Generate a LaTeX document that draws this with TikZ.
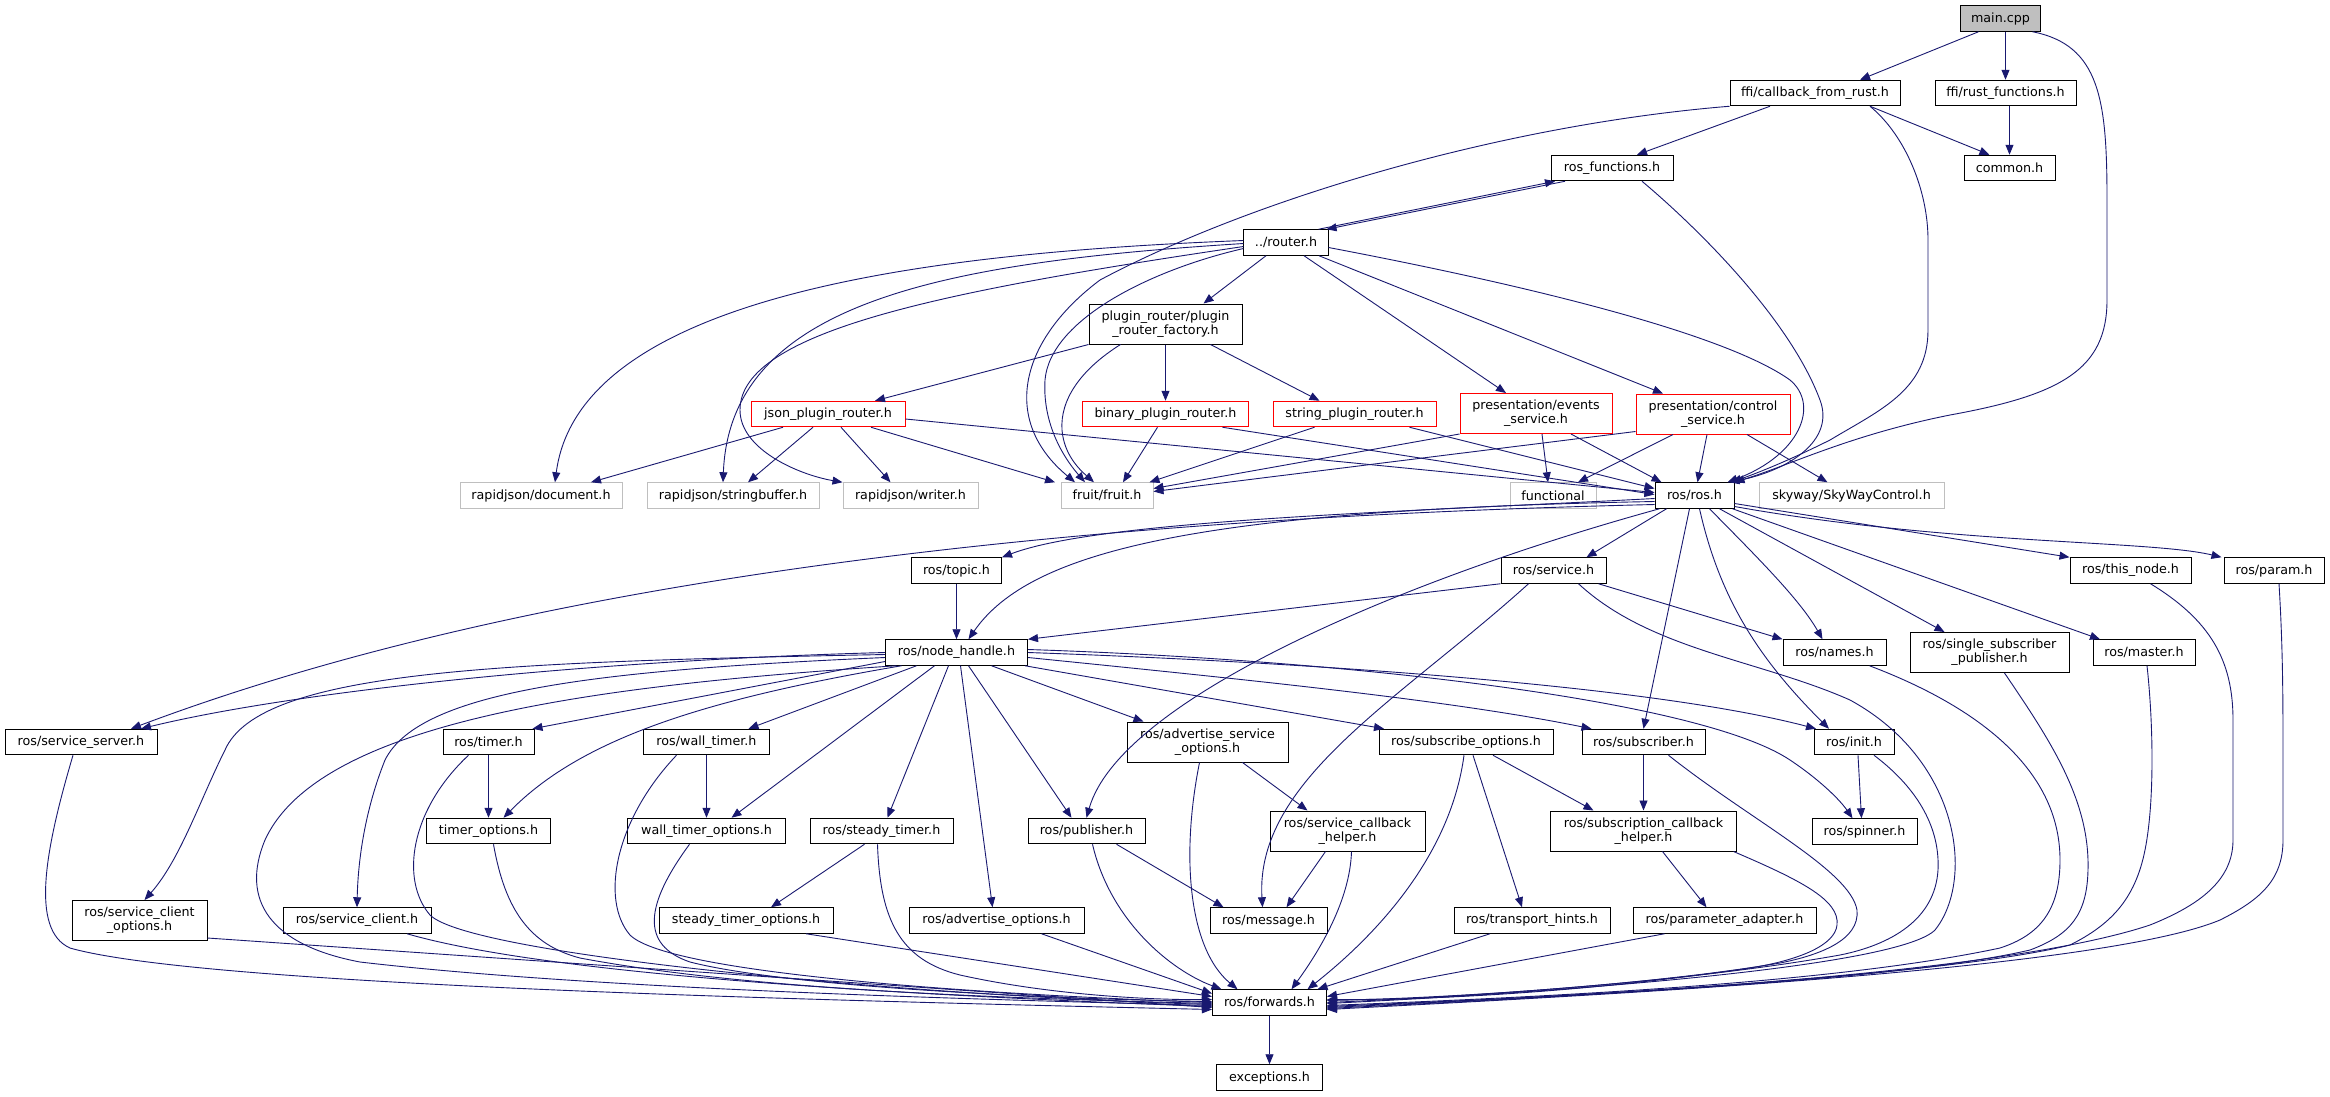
\documentclass[tikz,border=0pt]{standalone}
\usepackage{fontspec}
\setmainfont{DejaVu Sans}
\usetikzlibrary{arrows.meta}
\definecolor{edgec}{HTML}{191970}
\definecolor{greyb}{HTML}{BFBFBF}
\tikzset{
  box/.style={draw=black, line width=1pt, fill=white, minimum height=25.5pt,
    inner xsep=11pt, inner ysep=2pt, font=\fontsize{12.7}{14}\selectfont, align=center},
  box2/.style={box, minimum height=40pt},
  redb/.style={draw=red},
  greyd/.style={draw=greyb},
  rootb/.style={fill=greyb},
  e/.style={draw=edgec, line width=0.9pt, -{Triangle[length=10pt,width=8pt]}}
}
\begin{document}
\begin{tikzpicture}[x=1pt,y=-1pt]
\fill[white] (0,0) rectangle (2330,1096);
\useasboundingbox (0,0) rectangle (2330,1096);

% ---------- nodes ----------
\node[box, rootb, minimum width=80pt] (main) at (2000.5,18.5) {main.cpp};
\node[box, minimum width=170pt] (cb) at (1815,93) {ffi/callback\_from\_rust.h};
\node[box, minimum width=141pt] (rf) at (2005.5,93) {ffi/rust\_functions.h};
\node[box, minimum width=122pt] (rosf) at (1612,168) {ros\_functions.h};
\node[box, minimum width=91pt] (common) at (2009.5,168) {common.h};
\node[box, minimum width=84pt] (router) at (1286,242.5) {../router.h};
\node[box2, minimum width=153pt] (prf) at (1165.5,324) {plugin\_router/plugin\\\_router\_factory.h};
\node[box, redb, minimum width=154pt] (json) at (828,414) {json\_plugin\_router.h};
\node[box, redb, minimum width=166pt] (binary) at (1165.5,414) {binary\_plugin\_router.h};
\node[box, redb, minimum width=163pt] (string) at (1354.5,414) {string\_plugin\_router.h};
\node[box2, redb, minimum width=152pt] (events) at (1536,413.5) {presentation/events\\\_service.h};
\node[box2, redb, minimum width=154pt] (control) at (1713,414) {presentation/control\\\_service.h};
\node[box, greyd, minimum width=162pt] (document) at (541,495.5) {rapidjson/document.h};
\node[box, greyd, minimum width=172pt] (sbuf) at (733,495.5) {rapidjson/stringbuffer.h};
\node[box, greyd, minimum width=135pt] (writer) at (910.5,495.5) {rapidjson/writer.h};
\node[box, greyd, minimum width=92pt] (fruit) at (1107,495.5) {fruit/fruit.h};
\node[box, greyd, minimum width=86pt] (functional) at (1553,495.5) {functional};
\node[box, minimum width=79pt] (ros) at (1694.5,495.5) {ros/ros.h};
\node[box, greyd, minimum width=185pt] (skyway) at (1851.5,495.5) {skyway/SkyWayControl.h};
\node[box, minimum width=90pt] (topic) at (956.5,570.5) {ros/topic.h};
\node[box, minimum width=105pt] (service) at (1553.5,570.5) {ros/service.h};
\node[box, minimum width=121pt] (thisnode) at (2130.5,570.5) {ros/this\_node.h};
\node[box, minimum width=100pt] (param) at (2274,570.5) {ros/param.h};
\node[box, minimum width=142pt] (nh) at (956.5,652.5) {ros/node\_handle.h};
\node[box, minimum width=103pt] (names) at (1834.5,652.5) {ros/names.h};
\node[box2, minimum width=159pt] (ssp) at (1989.5,652.5) {ros/single\_subscriber\\\_publisher.h};
\node[box, minimum width=102pt] (master) at (2144,652.5) {ros/master.h};
\node[box, minimum width=152pt] (ss) at (81,742) {ros/service\_server.h};
\node[box, minimum width=91pt] (timer) at (488.5,742) {ros/timer.h};
\node[box, minimum width=126pt] (wtimer) at (706.5,742) {ros/wall\_timer.h};
\node[box2, minimum width=161pt] (aso) at (1207.5,742) {ros/advertise\_service\\\_options.h};
\node[box, minimum width=174pt] (subopt) at (1466,742) {ros/subscribe\_options.h};
\node[box, minimum width=123pt] (subscriber) at (1643.5,742) {ros/subscriber.h};
\node[box, minimum width=80pt] (init) at (1854,742) {ros/init.h};
\node[box, minimum width=124pt] (topt) at (488.5,831) {timer\_options.h};
\node[box, minimum width=158pt] (wtopt) at (706.5,831) {wall\_timer\_options.h};
\node[box, minimum width=143pt] (stimer) at (881.5,831) {ros/steady\_timer.h};
\node[box, minimum width=117pt] (pub) at (1086.5,831) {ros/publisher.h};
\node[box2, minimum width=155pt] (sch) at (1347.5,831) {ros/service\_callback\\\_helper.h};
\node[box2, minimum width=186pt] (subcb) at (1643.5,831) {ros/subscription\_callback\\\_helper.h};
\node[box, minimum width=105pt] (spinner) at (1864.5,831.5) {ros/spinner.h};
\node[box2, minimum width=135pt] (sco) at (139.5,920.5) {ros/service\_client\\\_options.h};
\node[box, minimum width=148pt] (sclient) at (357,920.5) {ros/service\_client.h};
\node[box, minimum width=174pt] (stopt) at (746,920.5) {steady\_timer\_options.h};
\node[box, minimum width=175pt] (advopt) at (996.5,920.5) {ros/advertise\_options.h};
\node[box, minimum width=117pt] (msg) at (1268.5,920.5) {ros/message.h};
\node[box, minimum width=156pt] (th) at (1532,920.5) {ros/transport\_hints.h};
\node[box, minimum width=183pt] (pa) at (1724.5,920.5) {ros/parameter\_adapter.h};
\node[box, minimum width=114pt] (fwd) at (1269.5,1002.5) {ros/forwards.h};
\node[box, minimum width=106pt] (exc) at (1269.5,1077.5) {exceptions.h};

% ---------- top edges ----------
\draw[e] ([xshift=-22pt]main.south) -- ([xshift=45pt]cb.north);
\draw[e] ([xshift=5pt]main.south) -- (rf.north);
\draw[e] ([xshift=32pt]main.south) .. controls (2100,45) and (2107,100) .. (2107,200) -- (2107,300) .. controls (2107,370) and (2060,395) .. (1950,415) .. controls (1850,435) and (1790,465) .. (ros.north east);
\draw[e] ([xshift=55pt]cb.south) .. controls (1905,135) and (1928,190) .. (1928,240) -- (1928,330) .. controls (1928,390) and (1880,410) .. (1830,440) .. controls (1790,460) and (1760,472) .. ([xshift=-3pt]ros.north east);
\draw[e] ([xshift=-45pt]cb.south) -- ([xshift=25pt]rosf.north);
\draw[e] ([xshift=55pt]cb.south) -- ([xshift=-20pt]common.north);
\draw[e] ([xshift=4pt]rf.south) -- (common.north);
\draw[e] (cb.south west) .. controls (1500,125) and (1250,200) .. (1100,280) .. controls (1020,340) and (1000,420) .. ([xshift=-32pt]fruit.north);
\draw[e] ([xshift=-47pt]rosf.south) -- ([xshift=-2pt]router.north east);
\draw[e] ([xshift=-10pt]router.north east) -- ([xshift=-57pt]rosf.south);
\draw[e] ([xshift=30pt]rosf.south) .. controls (1700,230) and (1790,320) .. (1820,400) .. controls (1835,440) and (1790,470) .. ([xshift=-5pt]ros.north east);

% ---------- router edges ----------
\draw[e] ([yshift=-5pt]router.east) .. controls (1500,280) and (1720,330) .. (1790,380) .. controls (1820,405) and (1800,455) .. ([xshift=-7pt]ros.north east);
\draw[e] ([xshift=-20pt]router.south) -- ([xshift=38pt]prf.north);
\draw[e] ([xshift=18pt]router.south) -- ([xshift=-30pt]events.north);
\draw[e] ([xshift=33pt]router.south) -- ([xshift=-50pt]control.north);
\draw[e] ([yshift=2pt]router.west) .. controls (950,252) and (580,290) .. ([xshift=14pt]document.north);
\draw[e] ([yshift=-1pt]router.west) .. controls (950,262) and (730,300) .. ([xshift=-10pt]sbuf.north);
\draw[e] ([yshift=-4pt]router.west) .. controls (950,290) and (740,330) .. (740,410) .. controls (740,450) and (800,475) .. (writer.north west);
\draw[e] ([yshift=-6pt]router.west) .. controls (1150,270) and (1050,320) .. (1045,380) .. controls (1042,430) and (1070,465) .. ([xshift=-22pt]fruit.north);

% ---------- plugin router ----------
\draw[e] ([xshift=-45pt]prf.south) .. controls (1080,370) and (1060,400) .. (1062,430) .. controls (1064,455) and (1080,470) .. ([xshift=-13pt]fruit.north);
\draw[e] (prf.south west) -- ([xshift=47pt]json.north);
\draw[e] (prf.south) -- (binary.north);
\draw[e] ([xshift=45pt]prf.south) -- ([xshift=-35pt]string.north);

% ---------- red row ----------
\draw[e] ([xshift=-45pt]json.south) -- ([xshift=50pt]document.north);
\draw[e] ([xshift=-15pt]json.south) -- ([xshift=15pt]sbuf.north);
\draw[e] ([xshift=13pt]json.south) -- ([xshift=-20pt]writer.north);
\draw[e] ([xshift=43pt]json.south) -- ([xshift=-52pt]fruit.north);
\draw[e] ([yshift=-5pt]json.east) -- ([yshift=3pt]ros.west);
\draw[e] ([xshift=-8pt]binary.south) -- ([xshift=16pt]fruit.north);
\draw[e] ([xshift=57pt]binary.south) -- ([yshift=1pt]ros.west);
\draw[e] ([xshift=-40pt]string.south) -- ([xshift=-4pt]fruit.north east);
\draw[e] ([xshift=55pt]string.south) -- ([yshift=7pt]ros.west);
\draw[e] (events.south west) -- ([yshift=7pt]fruit.east);
\draw[e] ([yshift=3pt]control.south west) -- ([yshift=4pt]fruit.east);
\draw[e] ([xshift=6pt]events.south) -- ([xshift=-5pt]functional.north);
\draw[e] ([xshift=35pt]events.south) -- ([xshift=-33pt]ros.north);
\draw[e] ([xshift=-40pt]control.south) -- ([xshift=25pt]functional.north);
\draw[e] ([xshift=-6pt]control.south) -- ([xshift=3pt]ros.north);
\draw[e] ([xshift=34pt]control.south) -- ([xshift=-24pt]skyway.north);

% ---------- ros.h ----------
\draw[e] ([yshift=-3pt]ros.west) .. controls (1400,512) and (1100,520) .. (topic.north east);
\draw[e] ([yshift=-6pt]ros.west) .. controls (1200,510) and (1030,550) .. ([xshift=12pt]nh.north);
\draw[e] ([yshift=-9pt]ros.west) .. controls (1000,520) and (500,590) .. ([xshift=50pt]ss.north);
\draw[e] ([xshift=-28pt]ros.south) -- ([xshift=33pt]service.north);
\draw[e] ([xshift=-35pt]ros.south) .. controls (1400,580) and (1120,700) .. (pub.north);
\draw[e] ([xshift=-5pt]ros.south) -- (subscriber.north);
\draw[e] ([xshift=15pt]ros.south) .. controls (1760,560) and (1800,600) .. ([xshift=-12pt]names.north);
\draw[e] ([xshift=5pt]ros.south) .. controls (1720,600) and (1760,660) .. ([xshift=-25pt]init.north);
\draw[e] ([xshift=25pt]ros.south) -- ([xshift=-45pt]ssp.north);
\draw[e] ([xshift=-2pt]ros.south east) -- ([xshift=-44pt]master.north);
\draw[e] ([yshift=-8pt]ros.east) -- (thisnode.north west);
\draw[e] ([yshift=-11pt]ros.east) .. controls (1950,545) and (2150,540) .. ([xshift=-2pt]param.north west);

% ---------- service.h ----------
\draw[e] (service.south west) -- (nh.north east);
\draw[e] ([xshift=45pt]service.south) -- (names.north west);
\draw[e] ([xshift=-25pt]service.south) .. controls (1400,700) and (1255,780) .. ([xshift=-6pt]msg.north);
\draw[e] ([xshift=25pt]service.south) .. controls (1650,650) and (1760,660) .. (1850,700) .. controls (1960,760) and (1975,880) .. (1935,930) .. controls (1900,965) and (1600,990) .. ([yshift=-1pt]fwd.east);

% ---------- right side into forwards ----------
\draw[e] ([xshift=35pt]names.south) .. controls (1960,700) and (2060,760) .. (2060,860) .. controls (2060,910) and (2040,935) .. (2000,948) .. controls (1850,980) and (1600,995) .. ([yshift=-3pt]fwd.east);
\draw[e] ([xshift=15pt]ssp.south) .. controls (2050,740) and (2090,800) .. (2088,870) .. controls (2087,915) and (2070,935) .. (2030,950) .. controls (1900,980) and (1600,995) .. ([yshift=-4pt]fwd.east);
\draw[e] ([xshift=3pt]master.south) .. controls (2153,720) and (2155,800) .. (2145,850) .. controls (2135,900) and (2110,925) .. (2070,945) .. controls (1950,975) and (1600,995) .. ([yshift=-5pt]fwd.east);
\draw[e] ([xshift=20pt]thisnode.south) .. controls (2210,620) and (2233,660) .. (2233,720) -- (2233,840) .. controls (2233,880) and (2200,905) .. (2150,925) .. controls (2000,975) and (1600,995) .. ([yshift=-6pt]fwd.east);
\draw[e] ([xshift=5pt]param.south) .. controls (2283,650) and (2283,700) .. (2283,760) -- (2283,840) .. controls (2283,880) and (2260,900) .. (2220,920) .. controls (2100,970) and (1600,995) .. ([yshift=-7pt]fwd.east);
\draw[e] ([xshift=20pt]init.south) .. controls (1920,790) and (1940,830) .. (1938,870) .. controls (1935,920) and (1890,945) .. (1840,955) .. controls (1700,980) and (1500,995) .. (fwd.east);
\draw[e] ([xshift=25pt]subscriber.south) .. controls (1750,820) and (1850,870) .. (1857,910) .. controls (1860,940) and (1820,955) .. (1780,963) .. controls (1650,985) and (1450,998) .. ([yshift=2pt]fwd.east);
\draw[e] ([xshift=90pt]subcb.south) .. controls (1800,880) and (1840,900) .. (1837,925) .. controls (1835,945) and (1800,960) .. (1750,968) .. controls (1600,990) and (1450,1000) .. ([yshift=3pt]fwd.east);
\draw[e] ([xshift=-60pt]pa.south) -- ([yshift=6pt]fwd.east);
\draw[e] ([xshift=-42pt]th.south) -- ([xshift=48pt]fwd.north);
\draw[e] ([xshift=-2pt]subopt.south) .. controls (1450,860) and (1370,940) .. ([xshift=38pt]fwd.north);
\draw[e] ([xshift=4pt]sch.south) .. controls (1350,900) and (1320,950) .. ([xshift=22pt]fwd.north);
\draw[e] ([xshift=-8pt]aso.south) .. controls (1180,860) and (1190,950) .. ([xshift=-32pt]fwd.north);
\draw[e] ([xshift=6pt]pub.south) .. controls (1110,920) and (1170,970) .. ([xshift=-48pt]fwd.north);
\draw[e] ([xshift=30pt]pub.south) -- ([xshift=-45pt]msg.north);
\draw[e] ([xshift=-22pt]sch.south) -- ([xshift=18pt]msg.north);

% ---------- left side into forwards ----------
\draw[e] ([xshift=45pt]advopt.south) -- ([yshift=9pt]fwd.west);
\draw[e] ([xshift=60pt]stopt.south) -- ([yshift=6pt]fwd.west);
\draw[e] ([xshift=-4pt]stimer.south) .. controls (880,920) and (900,960) .. (960,975) .. controls (1050,995) and (1150,1000) .. ([yshift=3pt]fwd.west);
\draw[e] ([xshift=-17pt]wtopt.south) .. controls (645,905) and (640,945) .. (690,962) .. controls (800,990) and (1100,1000) .. ([yshift=1pt]fwd.west);
\draw[e] ([xshift=-30pt]wtimer.south) .. controls (615,820) and (600,900) .. (630,935) .. controls (670,975) and (1000,995) .. (fwd.west);
\draw[e] ([xshift=5pt]topt.south) .. controls (505,910) and (530,945) .. (580,958) .. controls (750,990) and (1000,998) .. ([yshift=-1pt]fwd.west);
\draw[e] ([xshift=-20pt]timer.south) .. controls (410,810) and (400,880) .. (430,915) .. controls (470,955) and (900,995) .. ([yshift=-2pt]fwd.west);
\draw[e] ([xshift=-60pt]nh.south) .. controls (600,685) and (320,720) .. (265,840) .. controls (240,900) and (270,945) .. (360,962) .. controls (600,990) and (1000,1000) .. ([yshift=-3pt]fwd.west);
\draw[e] ([xshift=50pt]sclient.south) .. controls (550,975) and (900,995) .. ([yshift=-4pt]fwd.west);
\draw[e] ([yshift=3pt]sco.south east) -- ([yshift=-5pt]fwd.west);
\draw[e] ([xshift=-8pt]ss.south) .. controls (45,850) and (30,930) .. (70,948) .. controls (200,985) and (800,1000) .. ([yshift=-7pt]fwd.west);

% ---------- node_handle ----------
\draw[e] (topic) -- (nh);
\draw[e] (nh.west) .. controls (600,660) and (300,690) .. ([xshift=60pt]ss.north);
\draw[e] ([yshift=-2pt]nh.west) .. controls (500,662) and (260,670) .. (225,750) .. controls (200,800) and (180,860) .. ([xshift=5pt]sco.north);
\draw[e] ([yshift=-5pt]nh.west) .. controls (600,670) and (420,690) .. (385,760) .. controls (365,810) and (358,860) .. (sclient.north);
\draw[e] ([yshift=-9pt]nh.west) -- ([xshift=-2pt]timer.north east);
\draw[e] ([xshift=-55pt]nh.south) .. controls (700,700) and (580,740) .. ([xshift=15pt]topt.north);
\draw[e] ([xshift=-40pt]nh.south) -- ([xshift=42pt]wtimer.north);
\draw[e] ([xshift=-22pt]nh.south) -- ([xshift=25pt]wtopt.north);
\draw[e] ([xshift=-8pt]nh.south) -- ([xshift=6pt]stimer.north);
\draw[e] ([xshift=4pt]nh.south) -- ([xshift=-4pt]advopt.north);
\draw[e] ([xshift=12pt]nh.south) -- ([xshift=-15pt]pub.north);
\draw[e] ([xshift=35pt]nh.south) -- ([xshift=-64pt]aso.north);
\draw[e] ([xshift=-3pt]nh.south east) -- ([xshift=-82pt]subopt.north);
\draw[e] ([yshift=-5pt]nh.east) .. controls (1250,680) and (1450,700) .. ([xshift=-52pt]subscriber.north);
\draw[e] (nh.east) .. controls (1300,662) and (1650,685) .. ([xshift=-38pt]init.north);
\draw[e] ([yshift=3pt]nh.east) .. controls (1350,660) and (1700,700) .. (1790,760) .. controls (1820,780) and (1840,800) .. ([xshift=-12pt]spinner.north);

% ---------- lower small edges ----------
\draw[e] (timer) -- (topt);
\draw[e] (wtimer) -- (wtopt);
\draw[e] ([xshift=-17pt]stimer.south) -- ([xshift=25pt]stopt.north);
\draw[e] ([xshift=35pt]aso.south) -- ([xshift=-40pt]sch.north);
\draw[e] ([xshift=27pt]subopt.south) -- ([xshift=-50pt]subcb.north);
\draw[e] ([xshift=7pt]subopt.south) -- ([xshift=-10pt]th.north);
\draw[e] (subscriber) -- (subcb);
\draw[e] ([xshift=19pt]subcb.south) -- ([xshift=-18pt]pa.north);
\draw[e] ([xshift=4pt]init.south) -- ([xshift=-3pt]spinner.north);
\draw[e] (fwd) -- (exc);
\end{tikzpicture}
\end{document}
